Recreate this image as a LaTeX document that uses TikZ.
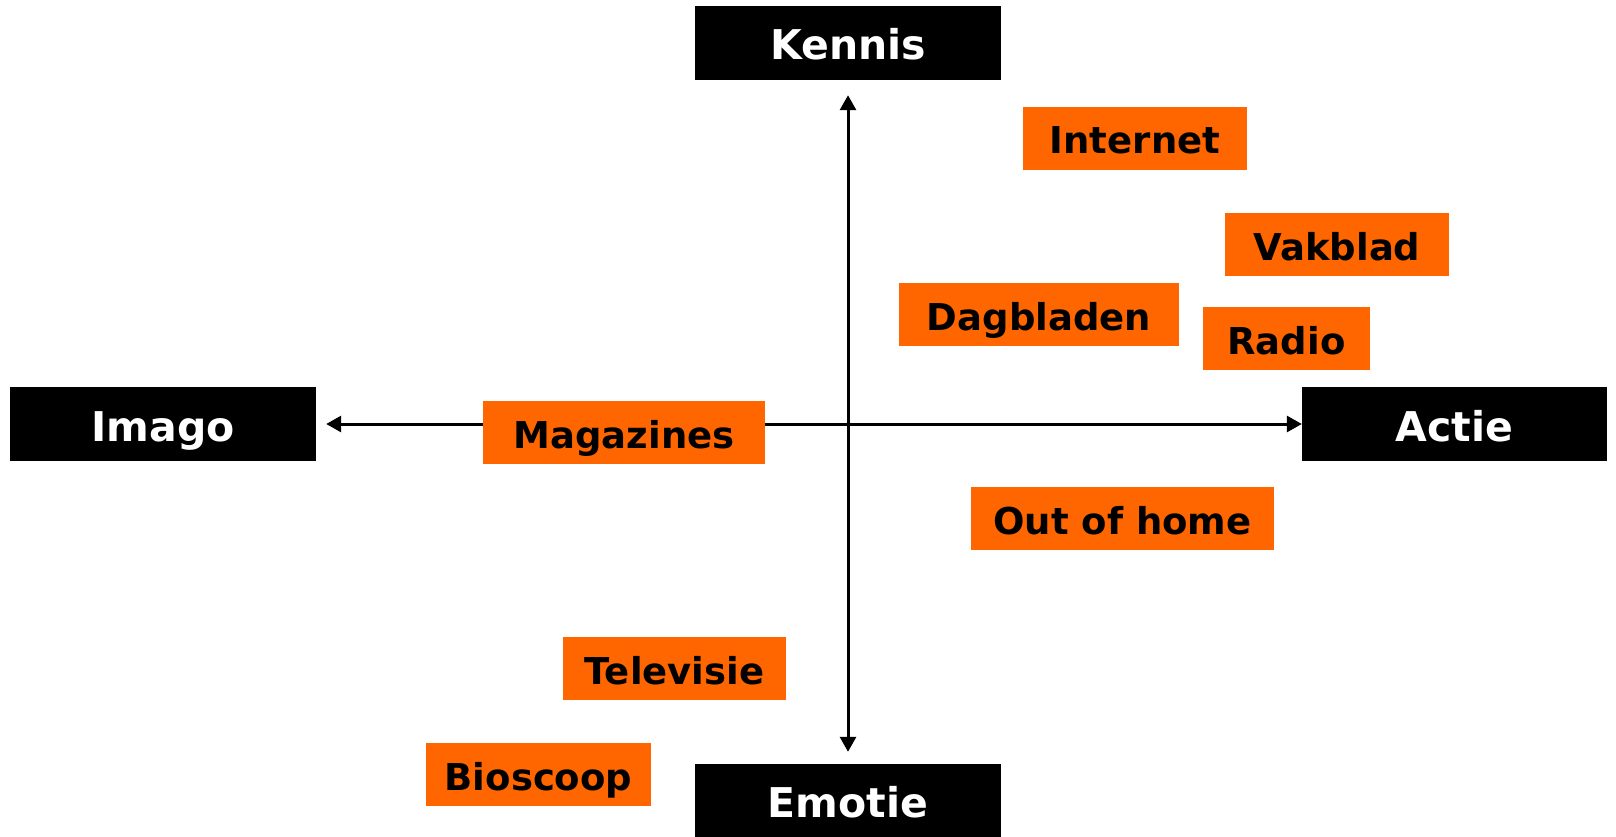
\documentclass[tikz,border=0pt]{standalone}
\usepackage{fontspec}
\setmainfont{DejaVu Sans}
\usepackage{tikz}
\usetikzlibrary{arrows.meta}

\definecolor{mediaorange}{HTML}{FF6600}

\begin{document}
\begin{tikzpicture}[x=1pt,y=-1pt,>={Triangle[length=15pt,width=16pt]},
  axis node/.style={rectangle,fill=black,text=white,inner sep=0pt,
    minimum height=74pt,text height=41pt,text depth=7pt,
    font=\fontsize{41}{48}\selectfont\bfseries},
  media node/.style={rectangle,fill=mediaorange,text=black,inner sep=0pt,
    minimum height=63pt,text height=37pt,text depth=6pt,
    font=\fontsize{37}{44}\selectfont\bfseries}]

  \useasboundingbox (0,0) rectangle (1616,837);

  \node[axis node,minimum width=306pt] (kennis) at (848,43) {Kennis};
  \node[axis node,minimum width=306pt,minimum height=73pt] (emotie) at (848,800.5) {Emotie};
  \node[axis node,minimum width=306pt] (imago) at (163,424) {Imago};
  \node[axis node,minimum width=305pt] (actie) at (1454.5,424) {Actie};

  \path[<->,line width=3pt]
    (kennis) edge [shorten <=15pt,shorten >=12pt] (emotie)
    (imago) edge [shorten <=10pt] (actie);

  \node[media node,minimum width=224pt] (internet) at (1135,138.5) {Internet};
  \node[media node,minimum width=224pt] (vakblad) at (1337,244.5) {Vakblad};
  \node[media node,minimum width=280pt] (dagbladen) at (1039,314.5) {Dagbladen};
  \node[media node,minimum width=167pt] (radio) at (1286.5,338.5) {Radio};
  \node[media node,minimum width=282pt] (magazines) at (624,432.5) {Magazines};
  \node[media node,minimum width=303pt] (ooh) at (1122.5,518.5) {Out of home};
  \node[media node,minimum width=223pt] (tv) at (674.5,668.5) {Televisie};
  \node[media node,minimum width=225pt] (bioscoop) at (538.5,774.5) {Bioscoop};

\end{tikzpicture}
\end{document}
